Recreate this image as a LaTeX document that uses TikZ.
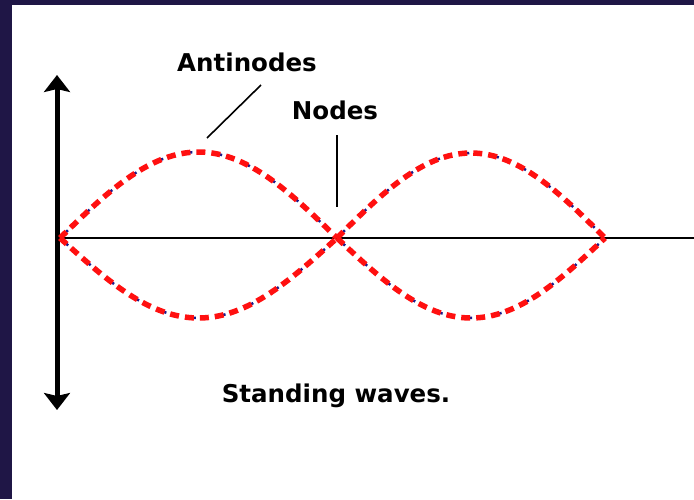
\documentclass[tikz,border=0pt]{standalone}
\usepackage{fontspec}
\setmainfont{DejaVu Sans}
\usetikzlibrary{arrows.meta}
\definecolor{frame}{HTML}{1F1646}
\definecolor{wavered}{HTML}{FF1010}
\definecolor{waveblue}{HTML}{1A1A8C}
\tikzset{
  lbl/.style={font=\bfseries\fontsize{24.5}{27}\selectfont, inner sep=0pt, anchor=center},
  pointer/.style={draw=black, line width=1.6pt},
  redwave/.style={draw=wavered, line width=5.5pt, dash pattern=on 9pt off 6pt},
  bluewave/.style={draw=waveblue, line width=2.5pt, dash pattern=on 3pt off 27pt, dash phase=-8pt},
  axisv/.style={draw=black, line width=5pt, {Stealth[length=17pt,width=26pt,inset=3pt]}-{Stealth[length=17pt,width=26pt,inset=3pt]}},
  axish/.style={draw=black, line width=2pt}
}
\begin{document}
\begin{tikzpicture}[x=1pt,y=-1pt]
\fill[frame] (0,0) rectangle (694,499);
\fill[white] (12,5) rectangle (694,499);
\useasboundingbox (0,0) rectangle (694,499);
% axes
\coordinate (vtop) at (57,75);
\coordinate (vbot) at (57,410);
\coordinate (hleft) at (57,238);
\coordinate (hright) at (694,238);
\draw[axish] (hleft) -- (hright);
\draw[axisv] (vbot) -- (vtop);
% waves: blue underlay
\draw[bluewave] plot[domain=60:337, samples=80] (\x, {238-86*sin((\x-60)/277*180)});
\draw[bluewave] plot[domain=60:337, samples=80] (\x, {238+80*sin((\x-60)/277*180)});
\draw[bluewave] plot[domain=337:605, samples=80] (\x, {238-85*sin((\x-337)/268*180)});
\draw[bluewave] plot[domain=337:605, samples=80] (\x, {238+80*sin((\x-337)/268*180)});
% waves: red
\draw[redwave] plot[domain=60:337, samples=80] (\x, {238-86*sin((\x-60)/277*180)});
\draw[redwave] plot[domain=60:337, samples=80] (\x, {238+80*sin((\x-60)/277*180)});
\draw[redwave] plot[domain=337:605, samples=80] (\x, {238-85*sin((\x-337)/268*180)});
\draw[redwave] plot[domain=337:605, samples=80] (\x, {238+80*sin((\x-337)/268*180)});
% labels
\node[lbl] (antinodes) at (247,62) {Antinodes};
\node[lbl] (nodes) at (335,110) {Nodes};
\node[lbl] (title) at (336,396) {Standing waves.};
\coordinate (aA) at (261,85);
\coordinate (aB) at (207,138);
\coordinate (nA) at (337,135);
\coordinate (nB) at (337,207);
\draw[pointer] (aA) -- (aB);
\draw[pointer] (nA) -- (nB);
\end{tikzpicture}
\end{document}
